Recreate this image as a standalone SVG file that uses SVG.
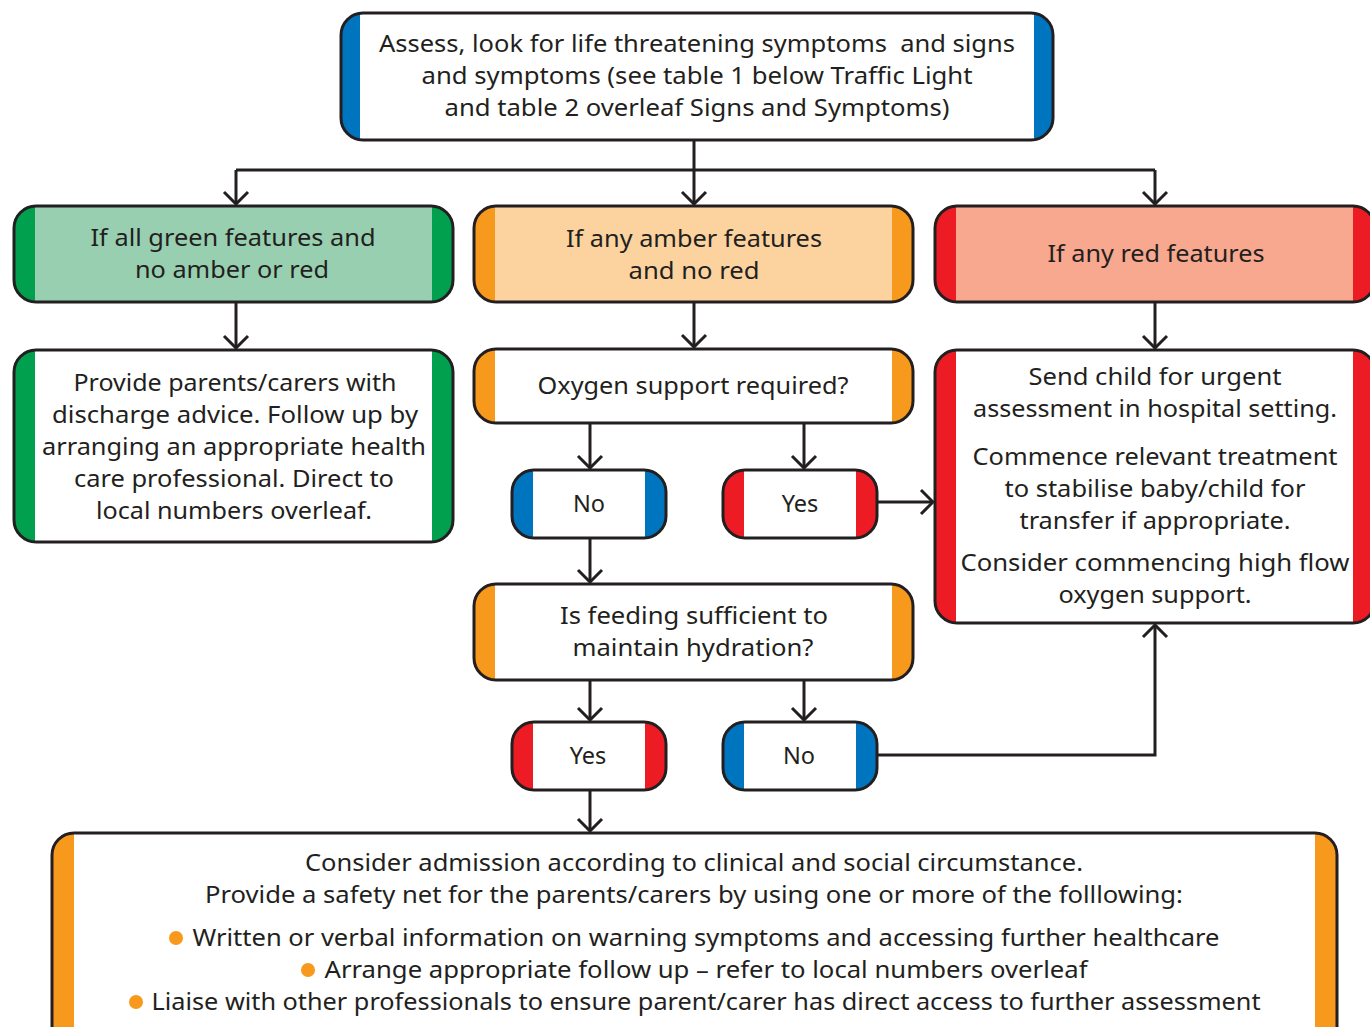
<svg xmlns="http://www.w3.org/2000/svg" width="1370" height="1027" viewBox="0 0 1370 1027">
<style>
.t{font-family:"Noto Sans","Open Sans","Liberation Sans",sans-serif;font-size:23.5px;fill:#231f20;text-anchor:middle}
.pre{white-space:pre}
.b{fill:none;stroke:#231f20;stroke-width:3}
.c{fill:none;stroke:#231f20;stroke-width:3}
.blue{fill:#0075bf}.green{fill:#00a04f}.amber{fill:#f7991c}.red{fill:#ed1c24}
</style>
<defs>
<marker id="ah" markerUnits="userSpaceOnUse" viewBox="-14 -14 16 28" markerWidth="16" markerHeight="28" refX="0" refY="0" orient="auto">
<path d="M-12,-12 L0,0 L-12,12" fill="none" stroke="#231f20" stroke-width="3"/>
</marker>
<clipPath id="c1"><rect x="341" y="13" width="712" height="127" rx="22"/></clipPath>
<clipPath id="c2"><rect x="14" y="206" width="439" height="96" rx="22"/></clipPath>
<clipPath id="c3"><rect x="474" y="206" width="439" height="96" rx="22"/></clipPath>
<clipPath id="c4"><rect x="935" y="206" width="440" height="96" rx="22"/></clipPath>
<clipPath id="c5"><rect x="14" y="350" width="439" height="192" rx="22"/></clipPath>
<clipPath id="c6"><rect x="474" y="349" width="439" height="74" rx="22"/></clipPath>
<clipPath id="c7"><rect x="935" y="350" width="440" height="273" rx="22"/></clipPath>
<clipPath id="c8"><rect x="512" y="470" width="154" height="68" rx="22"/></clipPath>
<clipPath id="c9"><rect x="723" y="470" width="154" height="68" rx="22"/></clipPath>
<clipPath id="c10"><rect x="474" y="584" width="439" height="96" rx="22"/></clipPath>
<clipPath id="c11"><rect x="512" y="722" width="154" height="68" rx="22"/></clipPath>
<clipPath id="c12"><rect x="723" y="722" width="154" height="68" rx="22"/></clipPath>
<clipPath id="c13"><rect x="52" y="833" width="1285" height="220" rx="22"/></clipPath>
</defs>
<rect width="1370" height="1027" fill="#fff"/>

<g id="connectors">
<path class="c" d="M694,140 V170 M236,170 H1155"/>
<path class="c" d="M236,170 V204" marker-end="url(#ah)"/>
<path class="c" d="M694,170 V204" marker-end="url(#ah)"/>
<path class="c" d="M1155,170 V204" marker-end="url(#ah)"/>
<path class="c" d="M236,302 V348" marker-end="url(#ah)"/>
<path class="c" d="M694,302 V347" marker-end="url(#ah)"/>
<path class="c" d="M1155,302 V348" marker-end="url(#ah)"/>
<path class="c" d="M590,423 V468" marker-end="url(#ah)"/>
<path class="c" d="M804,423 V468" marker-end="url(#ah)"/>
<path class="c" d="M877,502 H933" marker-end="url(#ah)"/>
<path class="c" d="M590,538 V582" marker-end="url(#ah)"/>
<path class="c" d="M590,680 V720" marker-end="url(#ah)"/>
<path class="c" d="M804,680 V720" marker-end="url(#ah)"/>
<path class="c" d="M877,755 H1155 V625" marker-end="url(#ah)"/>
<path class="c" d="M590,790 V831" marker-end="url(#ah)"/>
</g>

<g id="assess">
<g clip-path="url(#c1)"><rect x="341" y="13" width="712" height="127" fill="#fff"/><rect class="blue" x="341" y="13" width="19" height="127"/><rect class="blue" x="1034" y="13" width="19" height="127"/></g>
<rect class="b" x="341" y="13" width="712" height="127" rx="22"/>
<text class="t pre" x="697" y="52" textLength="636" lengthAdjust="spacingAndGlyphs">Assess, look for life threatening symptoms  and signs</text>
<text class="t" x="697" y="84" textLength="551" lengthAdjust="spacingAndGlyphs">and symptoms (see table 1 below Traffic Light</text>
<text class="t" x="697" y="116" textLength="505" lengthAdjust="spacingAndGlyphs">and table 2 overleaf Signs and Symptoms)</text>
</g>

<g id="green1">
<g clip-path="url(#c2)"><rect x="14" y="206" width="439" height="96" fill="#98cfb1"/><rect class="green" x="14" y="206" width="21" height="96"/><rect class="green" x="432" y="206" width="21" height="96"/></g>
<rect class="b" x="14" y="206" width="439" height="96" rx="22"/>
<text class="t" x="233" y="246" textLength="285" lengthAdjust="spacingAndGlyphs">If all green features and</text>
<text class="t" x="232" y="278" textLength="194" lengthAdjust="spacingAndGlyphs">no amber or red</text>
</g>

<g id="amber1">
<g clip-path="url(#c3)"><rect x="474" y="206" width="439" height="96" fill="#fcd39f"/><rect class="amber" x="474" y="206" width="21" height="96"/><rect class="amber" x="892" y="206" width="21" height="96"/></g>
<rect class="b" x="474" y="206" width="439" height="96" rx="22"/>
<text class="t" x="694" y="247" textLength="256" lengthAdjust="spacingAndGlyphs">If any amber features</text>
<text class="t" x="694" y="279" textLength="131" lengthAdjust="spacingAndGlyphs">and no red</text>
</g>

<g id="red1">
<g clip-path="url(#c4)"><rect x="935" y="206" width="440" height="96" fill="#f7a88e"/><rect class="red" x="935" y="206" width="21" height="96"/><rect class="red" x="1353" y="206" width="22" height="96"/></g>
<rect class="b" x="935" y="206" width="440" height="96" rx="22"/>
<text class="t" x="1156" y="262" textLength="217" lengthAdjust="spacingAndGlyphs">If any red features</text>
</g>

<g id="green2">
<g clip-path="url(#c5)"><rect x="14" y="350" width="439" height="192" fill="#fff"/><rect class="green" x="14" y="350" width="21" height="192"/><rect class="green" x="432" y="350" width="21" height="192"/></g>
<rect class="b" x="14" y="350" width="439" height="192" rx="22"/>
<text class="t" x="235" y="391" textLength="323" lengthAdjust="spacingAndGlyphs">Provide parents/carers with</text>
<text class="t" x="235" y="423" textLength="366" lengthAdjust="spacingAndGlyphs">discharge advice. Follow up by</text>
<text class="t" x="234" y="455" textLength="384" lengthAdjust="spacingAndGlyphs">arranging an appropriate health</text>
<text class="t" x="234" y="487" textLength="320" lengthAdjust="spacingAndGlyphs">care professional. Direct to</text>
<text class="t" x="234" y="519" textLength="276" lengthAdjust="spacingAndGlyphs">local numbers overleaf.</text>
</g>

<g id="oxygen">
<g clip-path="url(#c6)"><rect x="474" y="349" width="439" height="74" fill="#fff"/><rect class="amber" x="474" y="349" width="21" height="74"/><rect class="amber" x="892" y="349" width="21" height="74"/></g>
<rect class="b" x="474" y="349" width="439" height="74" rx="22"/>
<text class="t" x="693" y="394" textLength="311" lengthAdjust="spacingAndGlyphs">Oxygen support required?</text>
</g>

<g id="red2">
<g clip-path="url(#c7)"><rect x="935" y="350" width="440" height="273" fill="#fff"/><rect class="red" x="935" y="350" width="21" height="273"/><rect class="red" x="1353" y="350" width="22" height="273"/></g>
<rect class="b" x="935" y="350" width="440" height="273" rx="22"/>
<text class="t" x="1155" y="385" textLength="253" lengthAdjust="spacingAndGlyphs">Send child for urgent</text>
<text class="t" x="1155" y="417" textLength="364" lengthAdjust="spacingAndGlyphs">assessment in hospital setting.</text>
<text class="t" x="1155" y="465" textLength="365" lengthAdjust="spacingAndGlyphs">Commence relevant treatment</text>
<text class="t" x="1155" y="497" textLength="301" lengthAdjust="spacingAndGlyphs">to stabilise baby/child for</text>
<text class="t" x="1155" y="529" textLength="271" lengthAdjust="spacingAndGlyphs">transfer if appropriate.</text>
<text class="t" x="1155" y="571" textLength="389" lengthAdjust="spacingAndGlyphs">Consider commencing high flow</text>
<text class="t" x="1155" y="603" textLength="193" lengthAdjust="spacingAndGlyphs">oxygen support.</text>
</g>

<g id="no1">
<g clip-path="url(#c8)"><rect x="512" y="470" width="154" height="68" fill="#fff"/><rect class="blue" x="512" y="470" width="21" height="68"/><rect class="blue" x="645" y="470" width="21" height="68"/></g>
<rect class="b" x="512" y="470" width="154" height="68" rx="22"/>
<text class="t" x="589" y="512">No</text>
</g>

<g id="yes1">
<g clip-path="url(#c9)"><rect x="723" y="470" width="154" height="68" fill="#fff"/><rect class="red" x="723" y="470" width="21" height="68"/><rect class="red" x="856" y="470" width="21" height="68"/></g>
<rect class="b" x="723" y="470" width="154" height="68" rx="22"/>
<text class="t" x="800" y="512">Yes</text>
</g>

<g id="feeding">
<g clip-path="url(#c10)"><rect x="474" y="584" width="439" height="96" fill="#fff"/><rect class="amber" x="474" y="584" width="21" height="96"/><rect class="amber" x="892" y="584" width="21" height="96"/></g>
<rect class="b" x="474" y="584" width="439" height="96" rx="22"/>
<text class="t" x="694" y="624" textLength="268" lengthAdjust="spacingAndGlyphs">Is feeding sufficient to</text>
<text class="t" x="693" y="656" textLength="241" lengthAdjust="spacingAndGlyphs">maintain hydration?</text>
</g>

<g id="yes2">
<g clip-path="url(#c11)"><rect x="512" y="722" width="154" height="68" fill="#fff"/><rect class="red" x="512" y="722" width="21" height="68"/><rect class="red" x="645" y="722" width="21" height="68"/></g>
<rect class="b" x="512" y="722" width="154" height="68" rx="22"/>
<text class="t" x="588" y="764">Yes</text>
</g>

<g id="no2">
<g clip-path="url(#c12)"><rect x="723" y="722" width="154" height="68" fill="#fff"/><rect class="blue" x="723" y="722" width="21" height="68"/><rect class="blue" x="856" y="722" width="21" height="68"/></g>
<rect class="b" x="723" y="722" width="154" height="68" rx="22"/>
<text class="t" x="799" y="764">No</text>
</g>

<g id="admission">
<g clip-path="url(#c13)"><rect x="52" y="833" width="1285" height="220" fill="#fff"/><rect class="amber" x="52" y="833" width="22" height="220"/><rect class="amber" x="1315" y="833" width="22" height="220"/></g>
<rect class="b" x="52" y="833" width="1285" height="220" rx="22"/>
<text class="t" x="694" y="871" textLength="778" lengthAdjust="spacingAndGlyphs">Consider admission according to clinical and social circumstance.</text>
<text class="t" x="694" y="903" textLength="978" lengthAdjust="spacingAndGlyphs">Provide a safety net for the parents/carers by using one or more of the folllowing:</text>
<circle class="amber" cx="176" cy="938" r="7"/>
<text class="t" x="706" y="946" textLength="1027" lengthAdjust="spacingAndGlyphs">Written or verbal information on warning symptoms and accessing further healthcare</text>
<circle class="amber" cx="308" cy="970" r="7"/>
<text class="t" x="706" y="978" textLength="763" lengthAdjust="spacingAndGlyphs">Arrange appropriate follow up – refer to local numbers overleaf</text>
<circle class="amber" cx="136" cy="1002" r="7"/>
<text class="t" x="706" y="1010" textLength="1109" lengthAdjust="spacingAndGlyphs">Liaise with other professionals to ensure parent/carer has direct access to further assessment</text>
</g>
</svg>
